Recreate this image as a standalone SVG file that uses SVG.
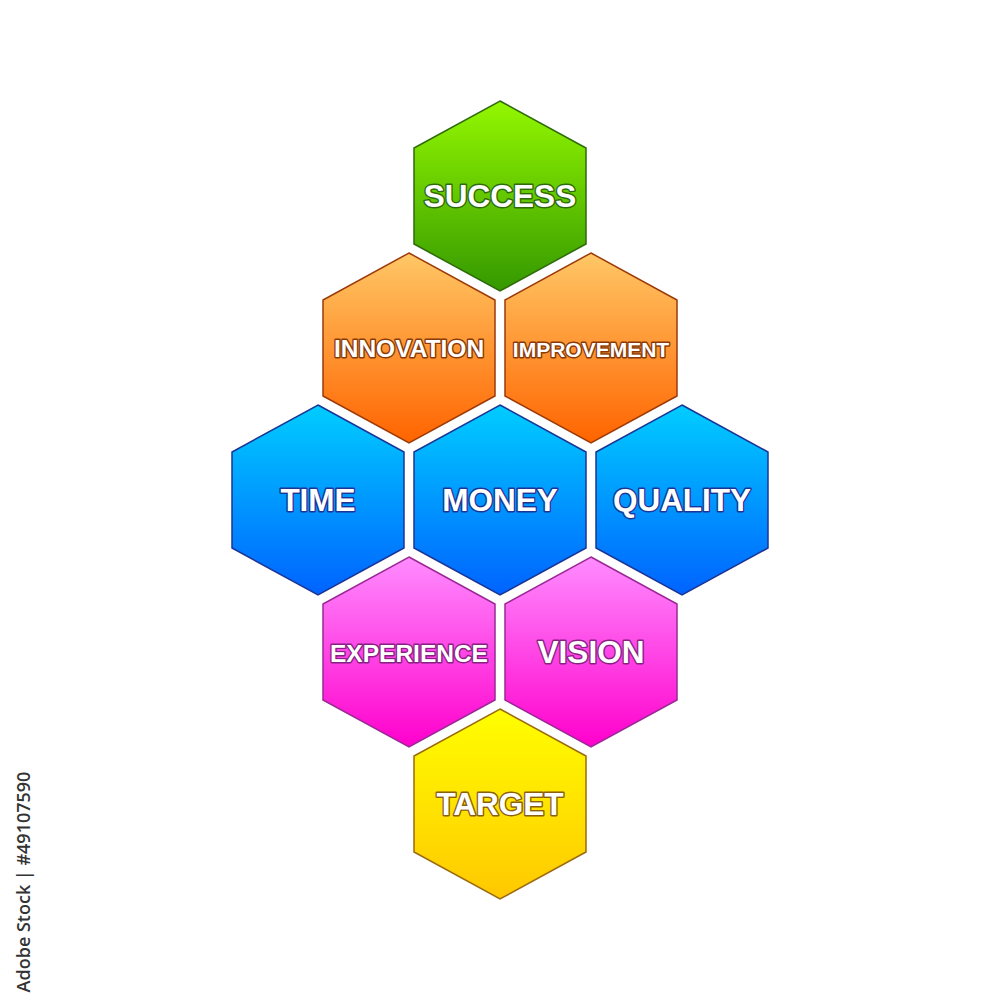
<svg xmlns="http://www.w3.org/2000/svg" xmlns:xlink="http://www.w3.org/1999/xlink" width="1000" height="1000" viewBox="0 0 1000 1000">
<defs>
<linearGradient id="gGreen" x1="0" y1="0" x2="0" y2="1"><stop offset="0" stop-color="#93f700"/><stop offset="1" stop-color="#349800"/></linearGradient>
<linearGradient id="gOrange" x1="0" y1="0" x2="0" y2="1"><stop offset="0" stop-color="#ffc766"/><stop offset="1" stop-color="#ff6400"/></linearGradient>
<linearGradient id="gBlue" x1="0" y1="0" x2="0" y2="1"><stop offset="0" stop-color="#00cdff"/><stop offset="1" stop-color="#0063ff"/></linearGradient>
<linearGradient id="gPink" x1="0" y1="0" x2="0" y2="1"><stop offset="0" stop-color="#ff8cff"/><stop offset="1" stop-color="#ff00cc"/></linearGradient>
<linearGradient id="gYellow" x1="0" y1="0" x2="0" y2="1"><stop offset="0" stop-color="#ffff00"/><stop offset="1" stop-color="#ffc800"/></linearGradient>
<polygon id="hex" points="0,-95 86,-48 86,48 0,95 -86,48 -86,-48"/>
</defs>
<style>
.green use{fill:url(#gGreen);stroke:#2e6a0c;stroke-width:1.5}
.orange use{fill:url(#gOrange);stroke:#9c3a08;stroke-width:1.5}
.blue use{fill:url(#gBlue);stroke:#1b3596;stroke-width:1.5}
.pink use{fill:url(#gPink);stroke:#9a2895;stroke-width:1.5}
.yellow use{fill:url(#gYellow);stroke:#9a6a10;stroke-width:1.5}
text.lbl{font-family:"Liberation Sans",Arial,sans-serif;font-weight:bold;fill:#ffffff;text-anchor:middle;paint-order:stroke;stroke-width:2.8;stroke-linejoin:round}
.green text{stroke:#2e6a0c}
.orange text{stroke:#8a3a08}
.blue text{stroke:#1b3596}
.pink text{stroke:#8a2085}
.yellow text{stroke:#8a6010}
.big{font-size:31.5px}
.mid{font-size:24.5px}
.sm{font-size:21px}
</style>
<rect width="1000" height="1000" fill="#ffffff"/>
<g id="success" class="green" transform="translate(500,196)"><use xlink:href="#hex" href="#hex"/><text class="lbl big" x="0" y="11">SUCCESS</text></g>
<g id="innovation" class="orange" transform="translate(409,348)"><use xlink:href="#hex" href="#hex"/><text class="lbl mid" x="0" y="9">INNOVATION</text></g>
<g id="improvement" class="orange" transform="translate(591,348)"><use xlink:href="#hex" href="#hex"/><text class="lbl sm" x="0" y="9">IMPROVEMENT</text></g>
<g id="time" class="blue" transform="translate(318,500)"><use xlink:href="#hex" href="#hex"/><text class="lbl big" x="0" y="11">TIME</text></g>
<g id="money" class="blue" transform="translate(500,500)"><use xlink:href="#hex" href="#hex"/><text class="lbl big" x="0" y="11">MONEY</text></g>
<g id="quality" class="blue" transform="translate(682,500)"><use xlink:href="#hex" href="#hex"/><text class="lbl big" x="0" y="11">QUALITY</text></g>
<g id="experience" class="pink" transform="translate(409,652)"><use xlink:href="#hex" href="#hex"/><text class="lbl mid" x="0" y="10">EXPERIENCE</text></g>
<g id="vision" class="pink" transform="translate(591,652)"><use xlink:href="#hex" href="#hex"/><text class="lbl big" x="0" y="11">VISION</text></g>
<g id="target" class="yellow" transform="translate(500,804)"><use xlink:href="#hex" href="#hex"/><text class="lbl big" x="0" y="11">TARGET</text></g>
<g id="connectors"></g>
<text x="0" y="0" transform="translate(30,882) rotate(-90)" font-family="'Open Sans','DejaVu Sans',sans-serif" font-size="18" font-weight="600" fill="#333333" text-anchor="middle">Adobe Stock | #49107590</text>
</svg>
